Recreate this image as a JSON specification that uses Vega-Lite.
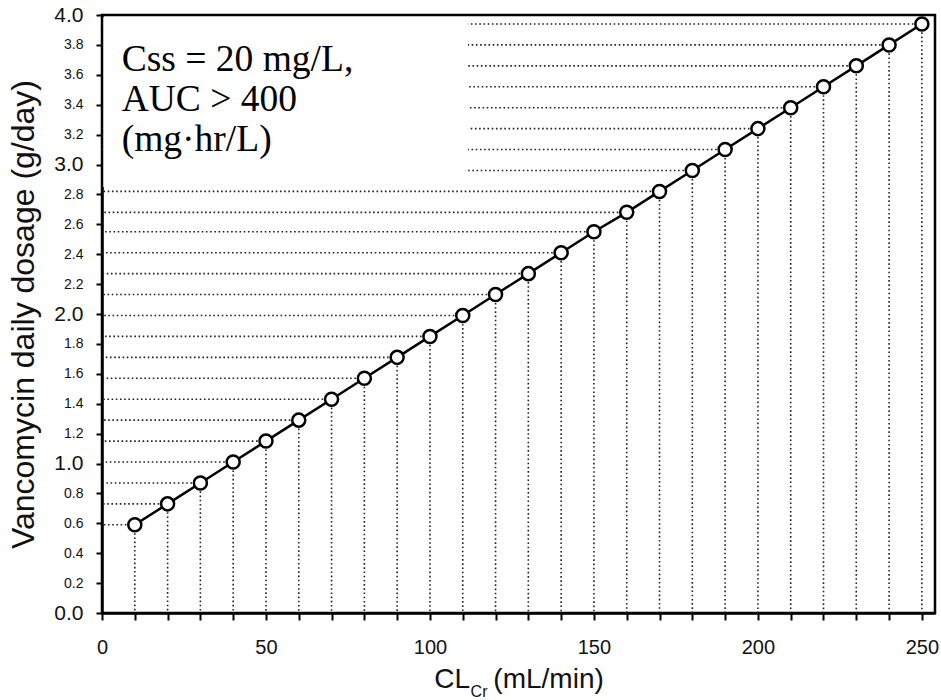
{
  "$schema": "https://vega.github.io/schema/vega-lite/v6.json",
  "width": 833,
  "height": 598,
  "autosize": {"type": "none"},
  "padding": {"left": 102, "top": 15, "right": 6, "bottom": 87},
  "background": "white",
  "config": {
    "view": {"stroke": "black", "strokeWidth": 2.5},
    "axis": {
      "grid": false,
      "domainColor": "black",
      "domainWidth": 2.5,
      "tickColor": "black",
      "tickWidth": 2,
      "labelColor": "#111",
      "titleColor": "#111",
      "labelFont": "Liberation Sans",
      "titleFont": "Liberation Sans",
      "titleFontWeight": "normal",
      "labelOverlap": false,
      "labelFlush": false
    }
  },
  "data": {
    "values": [
      {"clcr": 10, "dose": 0.59},
      {"clcr": 20, "dose": 0.73},
      {"clcr": 30, "dose": 0.87},
      {"clcr": 40, "dose": 1.01},
      {"clcr": 50, "dose": 1.15},
      {"clcr": 60, "dose": 1.29},
      {"clcr": 70, "dose": 1.43},
      {"clcr": 80, "dose": 1.57},
      {"clcr": 90, "dose": 1.71},
      {"clcr": 100, "dose": 1.85},
      {"clcr": 110, "dose": 1.99},
      {"clcr": 120, "dose": 2.13},
      {"clcr": 130, "dose": 2.27},
      {"clcr": 140, "dose": 2.41},
      {"clcr": 150, "dose": 2.55},
      {"clcr": 160, "dose": 2.68},
      {"clcr": 170, "dose": 2.82},
      {"clcr": 180, "dose": 2.96},
      {"clcr": 190, "dose": 3.10},
      {"clcr": 200, "dose": 3.24},
      {"clcr": 210, "dose": 3.38},
      {"clcr": 220, "dose": 3.52},
      {"clcr": 230, "dose": 3.66},
      {"clcr": 240, "dose": 3.80},
      {"clcr": 250, "dose": 3.94}
    ]
  },
  "layer": [
    {
      "mark": {"type": "rule", "color": "#222", "strokeWidth": 1.6, "strokeDash": [1.6, 2.6]},
      "encoding": {
        "x": {"field": "clcr", "type": "quantitative", "scale": {"domain": [0, 254], "nice": false, "zero": false}, "axis": {
          "values": [0,10,20,30,40,50,60,70,80,90,100,110,120,130,140,150,160,170,180,190,200,210,220,230,240,250],
          "labelExpr": "datum.value % 50 === 0 ? datum.label : ''",
          "labelOverlap": false, "labelFlush": false, "labelFontSize": 20, "labelPadding": 17, "tickSize": 7,
          "title": "CL\u00a0\u00a0\u00a0(mL/min)", "titleFontSize": 28, "titlePadding": 8}},
        "y": {"field": "dose", "type": "quantitative", "scale": {"domain": [0, 4], "nice": false}, "axis": {
          "values": [0,0.2,0.4,0.6,0.8,1,1.2,1.4,1.6,1.8,2,2.2,2.4,2.6,2.8,3,3.2,3.4,3.6,3.8,4],
          "format": ".1f", "labelOverlap": false, "labelFlush": false,
          "labelFontSize": {"condition": {"test": "abs(datum.value - round(datum.value)) < 0.001", "value": 21}, "value": 14},
          "labelPadding": 13, "tickSize": 6,
          "title": "Vancomycin daily dosage (g/day)", "titleFontSize": 32, "titlePadding": 13}},
        "y2": {"datum": 0}
      }
    },
    {
      "mark": {"type": "rule", "color": "#222", "strokeWidth": 1.6, "strokeDash": [1.6, 2.6]},
      "encoding": {
        "x": {"field": "clcr", "type": "quantitative", "axis": {
          "values": [0,10,20,30,40,50,60,70,80,90,100,110,120,130,140,150,160,170,180,190,200,210,220,230,240,250],
          "labelExpr": "datum.value % 50 === 0 ? datum.label : ''",
          "labelOverlap": false, "labelFlush": false, "labelFontSize": 20, "labelPadding": 17, "tickSize": 7,
          "title": "CL\u00a0\u00a0\u00a0(mL/min)", "titleFontSize": 28, "titlePadding": 8}},
        "x2": {"datum": 0},
        "y": {"field": "dose", "type": "quantitative", "axis": {
          "values": [0,0.2,0.4,0.6,0.8,1,1.2,1.4,1.6,1.8,2,2.2,2.4,2.6,2.8,3,3.2,3.4,3.6,3.8,4],
          "format": ".1f", "labelOverlap": false, "labelFlush": false,
          "labelFontSize": {"condition": {"test": "abs(datum.value - round(datum.value)) < 0.001", "value": 21}, "value": 14},
          "labelPadding": 13, "tickSize": 6,
          "title": "Vancomycin daily dosage (g/day)", "titleFontSize": 32, "titlePadding": 13}}
      }
    },
    {
      "mark": {"type": "line", "color": "black", "strokeWidth": 2.5},
      "encoding": {
        "x": {"field": "clcr", "type": "quantitative", "axis": {
          "values": [0,10,20,30,40,50,60,70,80,90,100,110,120,130,140,150,160,170,180,190,200,210,220,230,240,250],
          "labelExpr": "datum.value % 50 === 0 ? datum.label : ''",
          "labelOverlap": false, "labelFlush": false, "labelFontSize": 20, "labelPadding": 17, "tickSize": 7,
          "title": "CL\u00a0\u00a0\u00a0(mL/min)", "titleFontSize": 28, "titlePadding": 8}},
        "y": {"field": "dose", "type": "quantitative", "axis": {
          "values": [0,0.2,0.4,0.6,0.8,1,1.2,1.4,1.6,1.8,2,2.2,2.4,2.6,2.8,3,3.2,3.4,3.6,3.8,4],
          "format": ".1f", "labelOverlap": false, "labelFlush": false,
          "labelFontSize": {"condition": {"test": "abs(datum.value - round(datum.value)) < 0.001", "value": 21}, "value": 14},
          "labelPadding": 13, "tickSize": 6,
          "title": "Vancomycin daily dosage (g/day)", "titleFontSize": 32, "titlePadding": 13}}
      }
    },
    {
      "mark": {"type": "point", "shape": "circle", "filled": true, "fill": "white", "stroke": "black", "strokeWidth": 2.5, "size": 170, "opacity": 1},
      "encoding": {
        "x": {"field": "clcr", "type": "quantitative", "axis": {
          "values": [0,10,20,30,40,50,60,70,80,90,100,110,120,130,140,150,160,170,180,190,200,210,220,230,240,250],
          "labelExpr": "datum.value % 50 === 0 ? datum.label : ''",
          "labelOverlap": false, "labelFlush": false, "labelFontSize": 20, "labelPadding": 17, "tickSize": 7,
          "title": "CL\u00a0\u00a0\u00a0(mL/min)", "titleFontSize": 28, "titlePadding": 8}},
        "y": {"field": "dose", "type": "quantitative", "axis": {
          "values": [0,0.2,0.4,0.6,0.8,1,1.2,1.4,1.6,1.8,2,2.2,2.4,2.6,2.8,3,3.2,3.4,3.6,3.8,4],
          "format": ".1f", "labelOverlap": false, "labelFlush": false,
          "labelFontSize": {"condition": {"test": "abs(datum.value - round(datum.value)) < 0.001", "value": 21}, "value": 14},
          "labelPadding": 13, "tickSize": 6,
          "title": "Vancomycin daily dosage (g/day)", "titleFontSize": 32, "titlePadding": 13}}
      }
    },
    {
      "data": {"values": [{"box": "legend"}]},
      "mark": {"type": "rect", "fill": "white", "strokeWidth": 0},
      "encoding": {
        "x": {"datum": 0.4, "type": "quantitative", "axis": {
          "values": [0,10,20,30,40,50,60,70,80,90,100,110,120,130,140,150,160,170,180,190,200,210,220,230,240,250],
          "labelExpr": "datum.value % 50 === 0 ? datum.label : ''",
          "labelOverlap": false, "labelFlush": false, "labelFontSize": 20, "labelPadding": 17, "tickSize": 7,
          "title": "CL\u00a0\u00a0\u00a0(mL/min)", "titleFontSize": 28, "titlePadding": 8}},
        "x2": {"datum": 111.6},
        "y": {"datum": 2.85, "type": "quantitative", "axis": {
          "values": [0,0.2,0.4,0.6,0.8,1,1.2,1.4,1.6,1.8,2,2.2,2.4,2.6,2.8,3,3.2,3.4,3.6,3.8,4],
          "format": ".1f", "labelOverlap": false, "labelFlush": false,
          "labelFontSize": {"condition": {"test": "abs(datum.value - round(datum.value)) < 0.001", "value": 21}, "value": 14},
          "labelPadding": 13, "tickSize": 6,
          "title": "Vancomycin daily dosage (g/day)", "titleFontSize": 32, "titlePadding": 13}},
        "y2": {"datum": 3.985}
      }
    },
    {
      "data": {"values": [{"note": ["Css = 20 mg/L,", "AUC > 400", "(mg·hr/L)"]}]},
      "mark": {"type": "text", "font": "Liberation Serif", "fontSize": 37.5, "align": "left", "baseline": "alphabetic", "lineHeight": 40, "color": "black"},
      "encoding": {
        "x": {"datum": 6, "type": "quantitative", "axis": {
          "values": [0,10,20,30,40,50,60,70,80,90,100,110,120,130,140,150,160,170,180,190,200,210,220,230,240,250],
          "labelExpr": "datum.value % 50 === 0 ? datum.label : ''",
          "labelOverlap": false, "labelFlush": false, "labelFontSize": 20, "labelPadding": 17, "tickSize": 7,
          "title": "CL\u00a0\u00a0\u00a0(mL/min)", "titleFontSize": 28, "titlePadding": 8}},
        "y": {"datum": 3.625, "type": "quantitative", "axis": {
          "values": [0,0.2,0.4,0.6,0.8,1,1.2,1.4,1.6,1.8,2,2.2,2.4,2.6,2.8,3,3.2,3.4,3.6,3.8,4],
          "format": ".1f", "labelOverlap": false, "labelFlush": false,
          "labelFontSize": {"condition": {"test": "abs(datum.value - round(datum.value)) < 0.001", "value": 21}, "value": 14},
          "labelPadding": 13, "tickSize": 6,
          "title": "Vancomycin daily dosage (g/day)", "titleFontSize": 32, "titlePadding": 13}},
        "text": {"field": "note", "type": "nominal"}
      }
    },
    {
      "data": {"values": [{"sub": "Cr"}]},
      "mark": {"type": "text", "font": "Liberation Sans", "fontSize": 16, "align": "left", "baseline": "alphabetic", "color": "#111"},
      "encoding": {
        "x": {"datum": 112.4, "type": "quantitative", "axis": {
          "values": [0,10,20,30,40,50,60,70,80,90,100,110,120,130,140,150,160,170,180,190,200,210,220,230,240,250],
          "labelExpr": "datum.value % 50 === 0 ? datum.label : ''",
          "labelOverlap": false, "labelFlush": false, "labelFontSize": 20, "labelPadding": 17, "tickSize": 7,
          "title": "CL\u00a0\u00a0\u00a0(mL/min)", "titleFontSize": 28, "titlePadding": 8}},
        "y": {"datum": -0.56, "type": "quantitative", "axis": {
          "values": [0,0.2,0.4,0.6,0.8,1,1.2,1.4,1.6,1.8,2,2.2,2.4,2.6,2.8,3,3.2,3.4,3.6,3.8,4],
          "format": ".1f", "labelOverlap": false, "labelFlush": false,
          "labelFontSize": {"condition": {"test": "abs(datum.value - round(datum.value)) < 0.001", "value": 21}, "value": 14},
          "labelPadding": 13, "tickSize": 6,
          "title": "Vancomycin daily dosage (g/day)", "titleFontSize": 32, "titlePadding": 13}},
        "text": {"field": "sub", "type": "nominal"}
      }
    }
  ]
}
